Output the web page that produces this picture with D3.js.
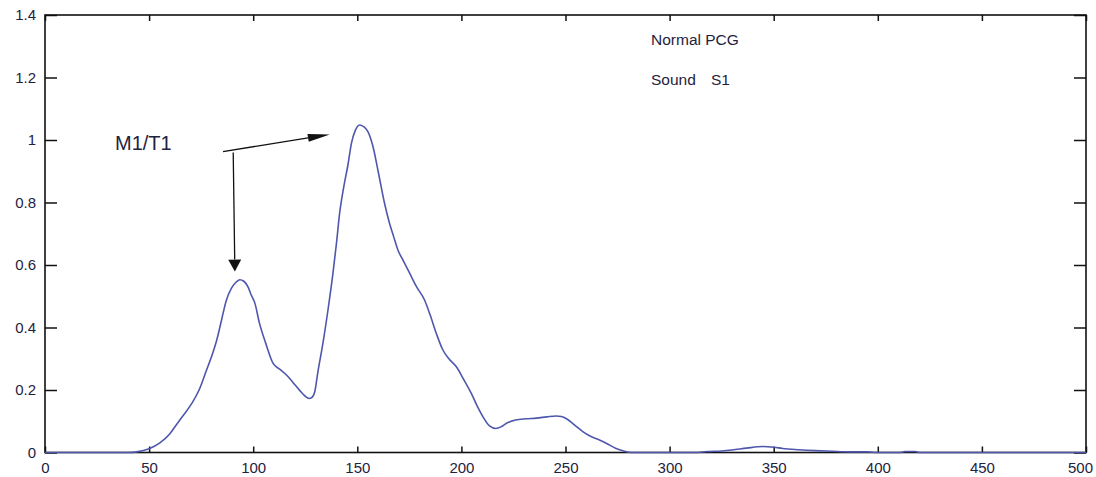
<!DOCTYPE html>
<html>
<head>
<meta charset="utf-8">
<script src="https://cdn.jsdelivr.net/npm/d3@7"></script>
<style>
  body { margin: 0; background: #fff; }
  text { font-family: "Liberation Sans", Arial, sans-serif; }
</style>
</head>
<body>
<div id="chart"></div>
<script>
// sample index (x) and normalised envelope amplitude (y)
var sampleX = [0, 40, 44, 50, 55, 60, 62.5, 66, 70.5, 74, 77.6, 80, 82.5, 84.8, 87, 89.5, 91.5, 93.6, 95.5,
    97.5, 99, 100.8, 103, 106, 109.5, 113, 116, 119, 122.4, 125, 127, 128.5, 129.6, 131, 133.5, 136, 138.3, 140, 141.5,
    143.5, 145.5, 147.2, 149, 151.1, 153, 155.1, 157.5, 160, 163, 165.5, 167.5, 169.5, 172, 175.2, 178.5, 182.3, 185, 188,
    191.1, 194, 197.5, 201, 204.7, 207.5, 210.3, 213.5, 216.5, 219, 221.5, 226, 231, 236, 241, 245.5, 248, 250.3, 254, 258.3,
    262, 266.3, 270, 274.3, 278, 281.5, 312, 318, 325, 330, 337, 344.7, 350, 354.3, 362, 370, 378, 386, 395, 400,
    411, 413, 418, 420, 500];
var sampleY = [0, 0, 0.002, 0.012, 0.03, 0.06, 0.083, 0.115, 0.157, 0.2, 0.264, 0.307, 0.36, 0.424, 0.485, 0.525, 0.543, 0.553, 0.548,
    0.53, 0.505, 0.478, 0.414, 0.35, 0.286, 0.265, 0.248, 0.225, 0.198, 0.18, 0.173, 0.178, 0.195, 0.255, 0.35, 0.46, 0.573, 0.67, 0.765,
    0.85, 0.92, 0.99, 1.03, 1.048, 1.043, 1.027, 0.98, 0.9, 0.8, 0.733, 0.69, 0.648, 0.615, 0.573, 0.53, 0.488, 0.44, 0.38,
    0.328, 0.3, 0.275, 0.235, 0.19, 0.15, 0.115, 0.085, 0.077, 0.082, 0.093, 0.104, 0.108, 0.11, 0.114, 0.117, 0.115, 0.109, 0.09, 0.067,
    0.052, 0.04, 0.028, 0.013, 0.005, 0, 0, 0.003, 0.005, 0.008, 0.014, 0.019, 0.017, 0.013, 0.009, 0.006, 0.004, 0.002, 0.002, 0,
    0, 0.003, 0.003, 0, 0];

var xTicks = [0, 50, 100, 150, 200, 250, 300, 350, 400, 450, 500];
var yTicks = [0, 0.2, 0.4, 0.6, 0.8, 1, 1.2, 1.4];

// annotation arrows in data units: [x1, y1, x2, y2]
var arrows = [[85.5, 0.963, 136.8, 1.018], [90.4, 0.96, 91.2, 0.579]];
var notes = ["Normal PCG", "Sound", "S1"];

var W = 1096, H = 477;
var mLeft = 45, mRight = 1086, mTop = 15, mBottom = 452.5;

var svg = d3.select("#chart").append("svg")
    .attr("width", W)
    .attr("height", H);

var x = d3.scaleLinear().domain([0, 500]).range([mLeft, mRight]);
var y = d3.scaleLinear().domain([0, 1.4]).range([mBottom, mTop]);

var fmt = function (d) { return String(+d.toFixed(1)); };
var textColor = "#1f2240";

// left axis (labels) and mirrored right axis
svg.append("g")
    .attr("transform", "translate(" + mLeft + ",0)")
    .call(d3.axisLeft(y).tickValues(yTicks).tickFormat(fmt).tickSize(-12).tickSizeOuter(0).tickPadding(9));
svg.append("g")
    .attr("transform", "translate(" + mRight + ",0)")
    .call(d3.axisRight(y).tickValues(yTicks).tickFormat("").tickSize(-12).tickSizeOuter(0));

// bottom axis (labels) and mirrored top axis
var xAxisG = svg.append("g")
    .attr("transform", "translate(0," + mBottom + ")")
    .call(d3.axisBottom(x).tickValues(xTicks).tickFormat(d3.format("d")).tickSize(-6).tickSizeOuter(0).tickPadding(10));
svg.append("g")
    .attr("transform", "translate(0," + mTop + ")")
    .call(d3.axisTop(x).tickValues(xTicks).tickFormat("").tickSize(-6).tickSizeOuter(0));

// last label sits inside the window, like the original
xAxisG.selectAll(".tick text").filter(function (d) { return d === 500; })
    .attr("dx", -6);

svg.selectAll(".domain").remove();
svg.selectAll(".tick line").attr("stroke", "#111").attr("stroke-width", 1.5);
svg.selectAll(".tick text")
    .attr("fill", textColor)
    .style("font-size", "15px");

// frame
svg.append("rect")
    .attr("x", mLeft)
    .attr("y", mTop)
    .attr("width", mRight - mLeft)
    .attr("height", mBottom - mTop)
    .attr("fill", "none")
    .attr("stroke", "#111")
    .attr("stroke-width", 1.6);

// the envelope curve
var pts = sampleX.map(function (d, i) { return [d, sampleY[i]]; });
svg.append("path")
    .datum(pts)
    .attr("d", d3.line()
        .x(function (d) { return x(d[0]); })
        .y(function (d) { return y(d[1]); })
        .curve(d3.curveMonotoneX))
    .attr("fill", "none")
    .attr("stroke", "#4f57ad")
    .attr("stroke-width", 1.6);

// annotation arrows
var heads = [[22, 4], [12, 6.5]];
arrows.forEach(function (a, i) {
    var x1 = x(a[0]), y1 = y(a[1]), x2 = x(a[2]), y2 = y(a[3]);
    var dx = x2 - x1, dy = y2 - y1, len = Math.sqrt(dx * dx + dy * dy);
    var ux = dx / len, uy = dy / len;
    var hl = heads[i][0], hw = heads[i][1];
    var bx = x2 - ux * hl, by = y2 - uy * hl;
    svg.append("line")
        .attr("x1", x1).attr("y1", y1)
        .attr("x2", bx).attr("y2", by)
        .attr("stroke", "#111")
        .attr("stroke-width", 1.3);
    svg.append("path")
        .attr("d", "M" + x2 + "," + y2 +
            "L" + (bx - uy * hw) + "," + (by + ux * hw) +
            "L" + (bx + uy * hw) + "," + (by - ux * hw) + "Z")
        .attr("fill", "#111");
});

svg.append("text")
    .attr("x", 115)
    .attr("y", 150)
    .attr("fill", textColor)
    .style("font-size", "20px")
    .text("M1/T1");

svg.append("text")
    .attr("x", 651)
    .attr("y", 45)
    .attr("fill", textColor)
    .style("font-size", "15.5px")
    .text(notes[0]);

var t2 = svg.append("text")
    .attr("y", 85)
    .attr("fill", textColor)
    .style("font-size", "15.5px");
t2.append("tspan").attr("x", 651).text(notes[1]);
t2.append("tspan").attr("x", 711).text(notes[2]);
</script>
</body>
</html>
